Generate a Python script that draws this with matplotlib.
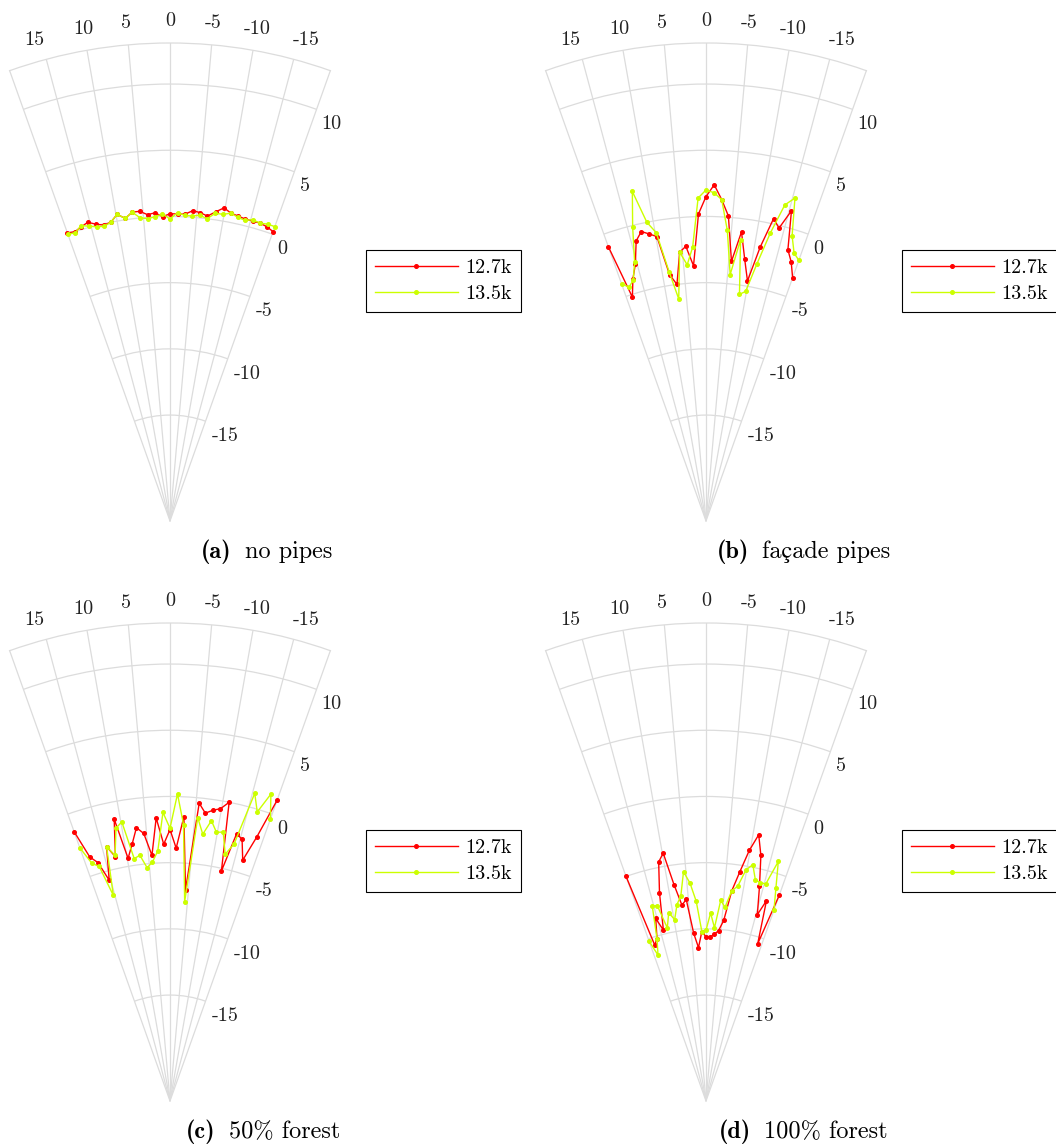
import numpy as np
import matplotlib
matplotlib.use('Agg')
import matplotlib.pyplot as plt
from matplotlib.transforms import offset_copy

plt.rcParams['font.family'] = ['cmr10', 'STIXGeneral', 'DejaVu Serif']
plt.rcParams['axes.unicode_minus'] = False
plt.rcParams['axes.formatter.use_mathtext'] = True

# angle of each measurement (deg), same for every panel
theta = [19.6, 18.2, 16.8, 15.4, 14.0, 12.6, 11.2, 9.8, 8.4, 7.0, 5.6, 4.2, 2.8, 1.4, 0.0,
         -1.4, -2.8, -4.2, -5.6, -7.0, -8.4, -9.8, -11.2, -12.6, -14.0, -15.4, -16.8, -18.2, -19.6]

labels = ['12.7k', '13.5k']

# (a) no pipes
a_127 = [0.1, 0.0, 0.2, 0.4, 0.1, -0.1, 0.0, 0.5, 0.1, 0.5, 0.5, 0.2, 0.3, 0.0, 0.2,
         0.2, 0.2, 0.5, 0.4, 0.2, 0.6, 1.0, 0.7, 0.6, 0.5, 0.5, 0.5, 0.4, 0.2]
a_135 = [0.0, -0.1, 0.3, 0.1, -0.1, -0.2, 0.0, 0.5, 0.1, 0.5, 0.0, -0.1, 0.0, 0.2, -0.2,
         0.3, 0.1, 0.1, 0.2, 0.0, 0.5, 0.5, 0.7, 0.5, 0.4, 0.6, 0.5, 0.6, 0.6]

# (b) facade pipes
b_127 = [-1.0, -5.2, -3.9, -2.9, -1.2, -0.6, -0.9, -1.2, -4.2, -5.0, -2.6, -2.2, -3.7, 0.2, 1.5,
         2.4, 1.3, 0.1, -3.3, -1.0, -3.0, -4.6, -1.9, 0.4, -0.2, 1.3, -1.6, -2.4, -3.5]
b_135 = [-4.0, -4.4, -4.0, -2.7, -0.1, 2.5, 0.0, -0.9, -4.0, -6.1, -2.6, -3.6, -2.3, 1.4, 2.0,
         1.8, 1.3, -1.0, -4.3, -1.6, -5.7, -5.4, -3.2, -0.7, 1.6, 2.3, -0.5, -1.7, -2.1]

# (c) 50% forest
c_127 = [-1.4, -3.6, -4.2, -5.7, -3.2, -4.1, -1.3, -4.4, -3.4, -2.2, -2.7, -4.4, -1.6, -3.6, -2.5,
         -3.9, -1.5, -7.0, -0.4, -1.1, -0.8, -0.6, 0.0, -5.2, -2.2, -2.5, -4.0, -2.0, 1.1]
c_135 = [-2.7, -4.1, -4.5, -6.9, -3.2, -4.0, -2.0, -1.6, -4.5, -4.3, -5.3, -4.9, -4.1, -1.2, -2.4,
         0.2, -2.1, -7.9, -1.5, -2.7, -1.6, -2.4, -2.3, -3.9, -3.0, 1.1, -0.2, 1.4, -0.4]

# (d) 100% forest
d_127 = [-5.0, -10.6, -10.2, -8.7, -9.7, -6.9, -4.6, -4.0, -6.5, -8.1, -7.7, -10.3, -11.4, -10.2, -10.6,
         -10.6, -10.4, -10.1, -9.3, -7.0, -5.5, -3.8, -2.5, -4.0, -6.3, -8.4, -7.2, -10.5, -6.5]
d_135 = [-10.2, -11.4, -10.2, -7.7, -7.8, -9.6, -8.5, -9.1, -8.0, -7.4, -5.6, -6.5, -7.9, -10.2, -10.1,
         -8.8, -9.9, -7.8, -8.3, -7.0, -6.6, -5.3, -4.8, -5.9, -6.0, -6.0, -4.1, -6.1, -7.7]

theta_ticks = [15, 10, 5, 0, -5, -10, -15]
r_ticks = [-15, -10, -5, 0, 5, 10]

W, H = 1056, 1145
TMAX = 19.6
RMIN, RMAX = -23.0, 13.1
R_PX = 478
PXU = R_PX / (RMAX - RMIN)
GRID = '#dcdcdc'
RED = '#ff0000'
YEL = '#ccff00'
FS = 14.5
FS_CAP = 17.5

fig = plt.figure(figsize=(W / 100, H / 100), dpi=100)
renderer = fig.canvas.get_renderer()


def caption(tag, body, xc, yb):
    t1 = fig.text(0, 1 - yb / H, tag, family='cmb10', fontsize=FS_CAP, va='baseline')
    t2 = fig.text(0, 1 - yb / H, body, fontsize=FS_CAP, va='baseline')
    w1 = t1.get_window_extent(renderer).width
    w2 = t2.get_window_extent(renderer).width
    x0 = xc - (w1 + 13 + w2) / 2
    t1.set_x(x0 / W)
    t2.set_x((x0 + w1 + 13) / W)


def panel(cx, cy, r127, r135):
    ax = fig.add_axes([(cx - R_PX / 2) / W, (H - cy) / H, R_PX / W, R_PX / H],
                      projection='polar')
    ax.set_theta_zero_location('N')
    ax.set_thetamin(-TMAX)
    ax.set_thetamax(TMAX)
    ax.set_rlim(RMIN, RMAX)
    ax.set_xticks(np.deg2rad(theta_ticks))
    ax.set_xticklabels([])
    ax.set_yticks(r_ticks)
    ax.set_yticklabels([])
    ax.tick_params(length=0)
    ax.grid(True, color=GRID, lw=0.9)
    for s in ax.spines.values():
        s.set_color(GRID)
        s.set_linewidth(0.9)

    # angle labels above the outer arc, radius labels right of the sector
    for t in theta_ticks:
        tt = t + 0.8 * np.sign(t) * (abs(t) == 15)
        ax.text(np.deg2rad(tt), RMAX + 22 / PXU, str(t), ha='center', va='center',
                fontsize=FS, color='#222222', clip_on=False)
    off = offset_copy(ax.transData, fig=fig, x=7, y=-15, units='dots')
    for r in r_ticks:
        ax.text(np.deg2rad(-TMAX + 0.3), r, str(r), transform=off, ha='left', va='center',
                fontsize=FS, color='#222222', clip_on=False)

    th = np.deg2rad(theta)
    ax.plot(th, r127, '-o', color=RED, lw=1.0, ms=2.6, label=labels[0],
            clip_on=False, zorder=3)
    ax.plot(th, r135, '-o', color=YEL, lw=1.0, ms=2.6, label=labels[1],
            clip_on=False, zorder=3)
    leg = ax.legend(loc='upper left', bbox_to_anchor=((cx + 196) / W, 1 - (cy - 271) / H),
                    bbox_transform=fig.transFigure, fancybox=False, edgecolor='black',
                    framealpha=1, fontsize=FS, handlelength=4.1, handletextpad=0.4,
                    borderpad=0.45, labelspacing=0.38, borderaxespad=0)
    leg.get_frame().set_linewidth(0.8)
    leg.set_zorder(5)


panel(170, 521, a_127, a_135)
panel(706, 521, b_127, b_135)
panel(170, 1101, c_127, c_135)
panel(706, 1101, d_127, d_135)
caption('(a)', 'no pipes', 266.5, 557.7)
caption('(b)', 'façade pipes', 803.5, 557.7)
caption('(c)', '50% forest', 263, 1137.7)
caption('(d)', '100% forest', 803.5, 1137.7)

fig.savefig('out.png', dpi=100)
